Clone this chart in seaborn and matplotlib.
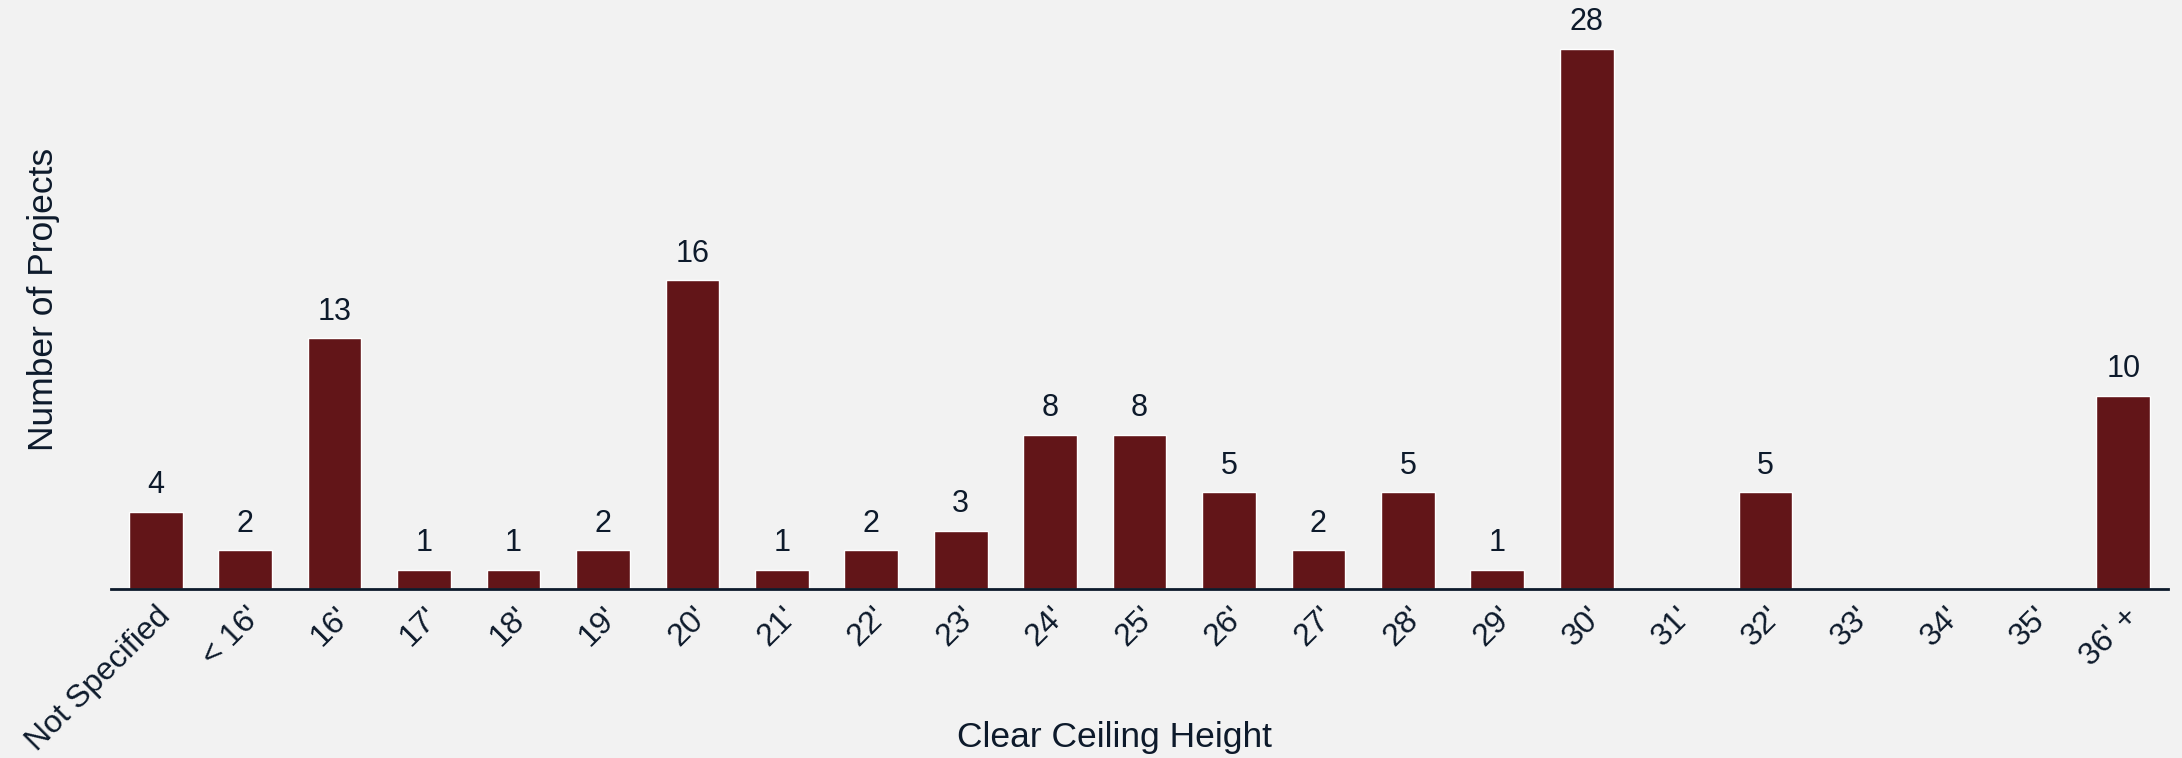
import matplotlib
matplotlib.use("Agg")
import matplotlib.pyplot as plt
import seaborn as sns
import pandas as pd

# Data
heights = ["Not Specified", "< 16'", "16'", "17'", "18'", "19'", "20'", "21'", "22'",
           "23'", "24'", "25'", "26'", "27'", "28'", "29'", "30'", "31'", "32'",
           "33'", "34'", "35'", "36' +"]
projects = [4, 2, 13, 1, 1, 2, 16, 1, 2, 3, 8, 8, 5, 2, 5, 1, 28, 0, 5, 0, 0, 0, 10]

bg = "#f2f2f2"
bar_color = "#621518"
text_color = "#0d1a2b"

sns.set_theme(style="white")
plt.rcParams["font.family"] = ["Liberation Sans", "DejaVu Sans"]

df = pd.DataFrame({"height": heights, "projects": projects})

fig = plt.figure(figsize=(21.82, 7.58), dpi=100, facecolor=bg)
ax = fig.add_axes([0.0509, 0.223, 0.9427, 0.7638])
ax.set_facecolor(bg)

sns.barplot(data=df, x="height", y="projects", color=bar_color, width=0.6,
            saturation=1, ax=ax, order=heights)

# value labels (skip empty categories)
for i, v in enumerate(projects):
    if v > 0:
        ax.text(i, v + 0.6, str(v), ha="center", va="bottom",
                fontsize=22, color=text_color)

ax.set_xlim(-0.5, len(heights) - 0.5)
ax.set_ylim(0, 30)
ax.set_yticks([])
ax.tick_params(axis="x", length=0, pad=9, labelsize=23, colors=text_color)
for lbl in ax.get_xticklabels():
    lbl.set_rotation(45)
    lbl.set_ha("right")
    lbl.set_rotation_mode("anchor")

for side in ["top", "right", "left"]:
    ax.spines[side].set_visible(False)
ax.spines["bottom"].set_color(text_color)
ax.spines["bottom"].set_linewidth(2)

ax.set_xlabel("Clear Ceiling Height", fontsize=25.5, color=text_color)
ax.set_ylabel("Number of Projects", fontsize=25.5, color=text_color)
ax.xaxis.set_label_coords(0.488, -0.228)
ax.yaxis.set_label_coords(-0.025, 0.5)

fig.savefig("out.png", dpi=100, facecolor=bg)
